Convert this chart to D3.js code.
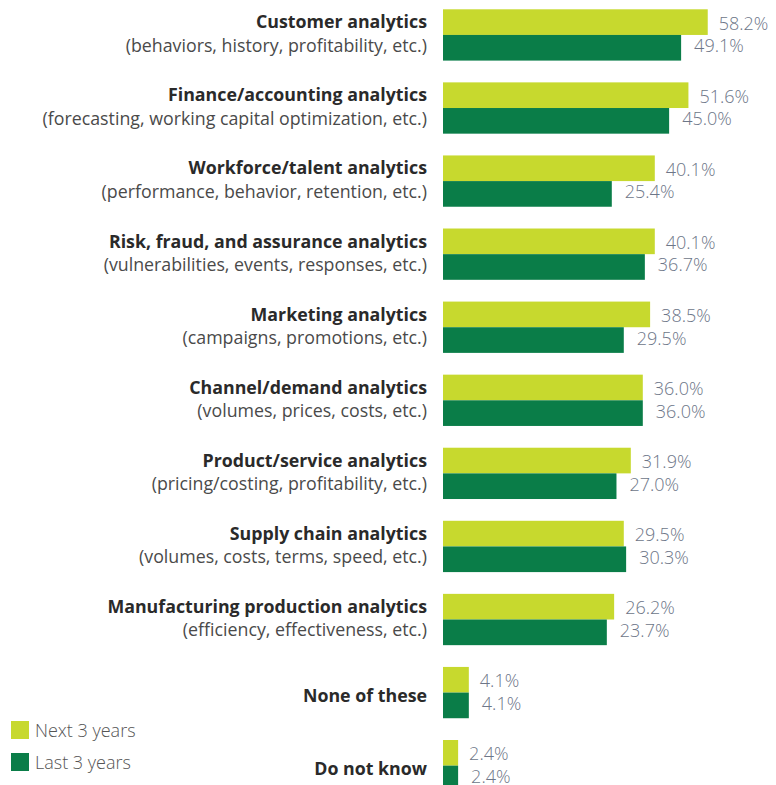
<!DOCTYPE html>
<html>
<head>
<meta charset="utf-8">
<script src="https://cdn.jsdelivr.net/npm/d3@7"></script>
<style>
  body { margin: 0; background: #fff; }
  svg { display: block; font-family: "Open Sans", sans-serif; }
</style>
</head>
<body>
<svg id="chart" width="776" height="785"></svg>
<script>
// categories (bold title + grey subtitle)
const titles = [
  "Customer analytics",
  "Finance/accounting analytics",
  "Workforce/talent analytics",
  "Risk, fraud, and assurance analytics",
  "Marketing analytics",
  "Channel/demand analytics",
  "Product/service analytics",
  "Supply chain analytics",
  "Manufacturing production analytics",
  "None of these",
  "Do not know"
]
const subtitles = [
  "(behaviors, history, profitability, etc.)",
  "(forecasting, working capital optimization, etc.)",
  "(performance, behavior, retention, etc.)",
  "(vulnerabilities, events, responses, etc.)",
  "(campaigns, promotions, etc.)",
  "(volumes, prices, costs, etc.)",
  "(pricing/costing, profitability, etc.)",
  "(volumes, costs, terms, speed, etc.)",
  "(efficiency, effectiveness, etc.)",
  "",
  ""
]
const nextYears = [58.2, 51.6, 40.1, 40.1, 38.5, 36.0, 31.9, 29.5, 26.2, 4.1, 2.4]
const lastYears = [49.1, 45.0, 25.4, 36.7, 29.5, 36.0, 27.0, 30.3, 23.7, 4.1, 2.4]
const seriesNames = ["Next 3 years", "Last 3 years"]

const colors = ["#c7d92e", "#0a7d48"]

const svg = d3.select("#chart")
const x0 = 443

// the original bars are not drawn to one linear scale, so use a polylinear one
const x = d3.scaleLinear()
  .domain([0, 5, 20, 60])
  .range([x0, x0 + 31.5, x0 + 153, x0 + 270])

const y = d3.scaleBand()
  .domain(titles)
  .range([9.3, 791.3])
  .paddingInner(0.298)
  .paddingOuter(0)

const ySub = d3.scaleBand()
  .domain(seriesNames)
  .range([0, y.bandwidth()])

const rows = titles.map((t, i) => ({
  title: t, sub: subtitles[i],
  values: [nextYears[i], lastYears[i]]
}))

const g = svg.selectAll("g.row")
  .data(rows)
  .join("g")
  .attr("class", "row")
  .attr("transform", d => `translate(0,${y(d.title)})`)

g.selectAll("rect")
  .data(d => d.values.map((v, k) => ({ v, k })))
  .join("rect")
  .attr("x", x(0))
  .attr("y", d => ySub(seriesNames[d.k]))
  .attr("width", d => x(d.v) - x(0))
  .attr("height", ySub.bandwidth())
  .attr("fill", d => colors[d.k])

g.selectAll("text.val")
  .data(d => d.values.map((v, k) => ({ v, k })))
  .join("text")
  .attr("class", "val")
  .attr("x", d => x(d.v) + (d.k === 0 ? 11 : 13))
  .attr("y", d => ySub(seriesNames[d.k]) + ySub.bandwidth() / 2 + (d.k === 0 ? 7.5 : 4.5))
  .attr("font-size", 18)
  .attr("font-weight", 300)
  .attr("fill", "#6d7688")
  .text(d => d.v.toFixed(1) + "%")

// labels on the left
g.append("text")
  .attr("x", 427)
  .attr("y", d => d.sub ? 19 : 35)
  .attr("text-anchor", "end")
  .attr("font-size", 17.8)
  .attr("font-weight", 700)
  .attr("fill", "#2a2a2a")
  .text(d => d.title)

g.filter(d => d.sub).append("text")
  .attr("x", 427)
  .attr("y", 42.5)
  .attr("text-anchor", "end")
  .attr("font-size", 17.8)
  .attr("fill", "#4a4a4a")
  .text(d => d.sub)

// legend
const legend = svg.append("g")
  .selectAll("g")
  .data(seriesNames)
  .join("g")
  .attr("transform", (d, i) => `translate(11,${721 + i * 32})`)

legend.append("rect")
  .attr("width", 18)
  .attr("height", 18)
  .attr("fill", (d, i) => colors[i])

legend.append("text")
  .attr("x", 24)
  .attr("y", 15.5)
  .attr("font-size", 18)
  .attr("font-weight", 300)
  .attr("fill", "#555")
  .text(d => d)
</script>
</body>
</html>
